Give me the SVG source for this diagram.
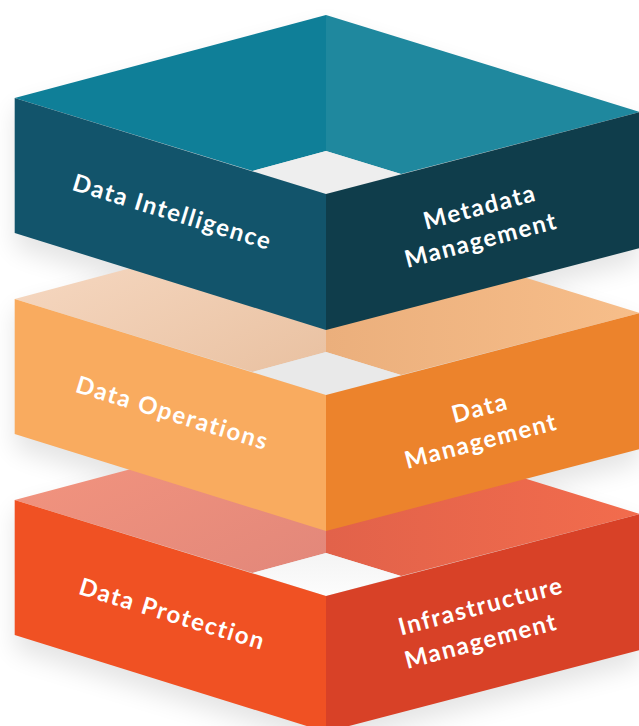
<svg xmlns="http://www.w3.org/2000/svg" width="639" height="726" viewBox="0 0 639 726">
  <defs>
    <filter id="soft" x="-20%" y="-20%" width="140%" height="140%">
      <feGaussianBlur stdDeviation="12"/>
    </filter>
    <linearGradient id="midBL" x1="0" y1="0" x2="1" y2="1">
      <stop offset="0" stop-color="#f8dcc7"/>
      <stop offset="1" stop-color="#e9c1a1"/>
    </linearGradient>
    <linearGradient id="midBR" x1="0" y1="0" x2="1" y2="0">
      <stop offset="0" stop-color="#ebaf7c"/>
      <stop offset="1" stop-color="#f7be8a"/>
    </linearGradient>
    <linearGradient id="botBL" x1="0" y1="0" x2="1" y2="1">
      <stop offset="0" stop-color="#f5967f"/>
      <stop offset="1" stop-color="#e2877a"/>
    </linearGradient>
    <linearGradient id="botBR" x1="0" y1="0" x2="1" y2="0">
      <stop offset="0" stop-color="#e2624a"/>
      <stop offset="1" stop-color="#f26c4d"/>
    </linearGradient>
    <linearGradient id="botHole" x1="0" y1="0" x2="0" y2="1">
      <stop offset="0" stop-color="#f4f4f4"/>
      <stop offset="1" stop-color="#fdfdfd"/>
    </linearGradient>
  </defs>
  <style>
    .lbl { font-family: "Lato", "Open Sans", "Liberation Sans", sans-serif; font-weight: 700; font-size: 24px; fill: #ffffff; text-anchor: middle; letter-spacing: 1.6px; }
    .shadow { fill: #000000; opacity: 0.10; filter: url(#soft); }
  </style>

  <rect width="639" height="726" fill="#ffffff"/>

  <!-- soft shadows on background -->
  <g id="shadows">
    <polygon class="shadow" points="14.7,110 326,27 640,124 640,262 326,344 14.7,248"/>
    <polygon class="shadow" points="14.7,311 326,228 640,325 640,463 326,545 14.7,449"/>
    <polygon class="shadow" points="14.7,512 326,429 640,526 640,664 326,746 14.7,650"/>
  </g>

  <!-- bottom layer -->
  <g id="layer-protection">
    <polygon points="14.7,500 326,417 326,553 252.6,573" fill="url(#botBL)"/>
    <polygon points="326,417 640,514 401,576 326,553" fill="url(#botBR)"/>
    <polygon points="326,553 252.6,573 326,596 401,576" fill="url(#botHole)"/>
    <polygon points="14.7,500 326,596 326,732 14.7,635" fill="#f05123"/>
    <polygon points="326,596 640,514 640,650 326,732" fill="#d84127"/>
    <g id="label-data-protection">
      <text class="lbl" transform="translate(170,622) rotate(17)">Data Protection</text>
    </g>
    <g id="label-infrastructure-management">
      <text class="lbl" transform="translate(483,614) rotate(-14.7)">Infrastructure</text>
      <text class="lbl" transform="translate(483,649) rotate(-14.7)">Management</text>
    </g>
  </g>

  <!-- middle layer -->
  <g id="layer-operations">
    <polygon points="14.7,299 326,216 326,352 252.6,372" fill="url(#midBL)"/>
    <polygon points="326,216 640,313 401,375 326,352" fill="url(#midBR)"/>
    <polygon points="326,352 252.6,372 326,395 401,375" fill="#e9e9e9"/>
    <polygon points="14.7,299 326,395 326,531 14.7,434" fill="#f9ab5f"/>
    <polygon points="326,395 640,313 640,449 326,531" fill="#ec832c"/>
    <g id="label-data-operations">
      <text class="lbl" transform="translate(170,421) rotate(17)">Data Operations</text>
    </g>
    <g id="label-data-management">
      <text class="lbl" transform="translate(482,416) rotate(-14.7)">Data</text>
      <text class="lbl" transform="translate(483,449) rotate(-14.7)">Management</text>
    </g>
  </g>

  <!-- top layer -->
  <g id="layer-intelligence">
    <polygon points="14.7,98 326,15 326,151 252.6,171" fill="#0f7f98"/>
    <polygon points="326,15 640,112 401,174 326,151" fill="#1f889e"/>
    <polygon points="326,151 252.6,171 326,194 401,174" fill="#eeeeee"/>
    <polygon points="14.7,98 326,194 326,330 14.7,233" fill="#12546b"/>
    <polygon points="326,194 640,112 640,248 326,330" fill="#0f3d4b"/>
    <g id="label-data-intelligence">
      <text class="lbl" transform="translate(170,220) rotate(17)">Data Intelligence</text>
    </g>
    <g id="label-metadata-management">
      <text class="lbl" transform="translate(482,215) rotate(-14.7)">Metadata</text>
      <text class="lbl" transform="translate(483,248) rotate(-14.7)">Management</text>
    </g>
  </g>

  <g id="connectors"/>
</svg>
